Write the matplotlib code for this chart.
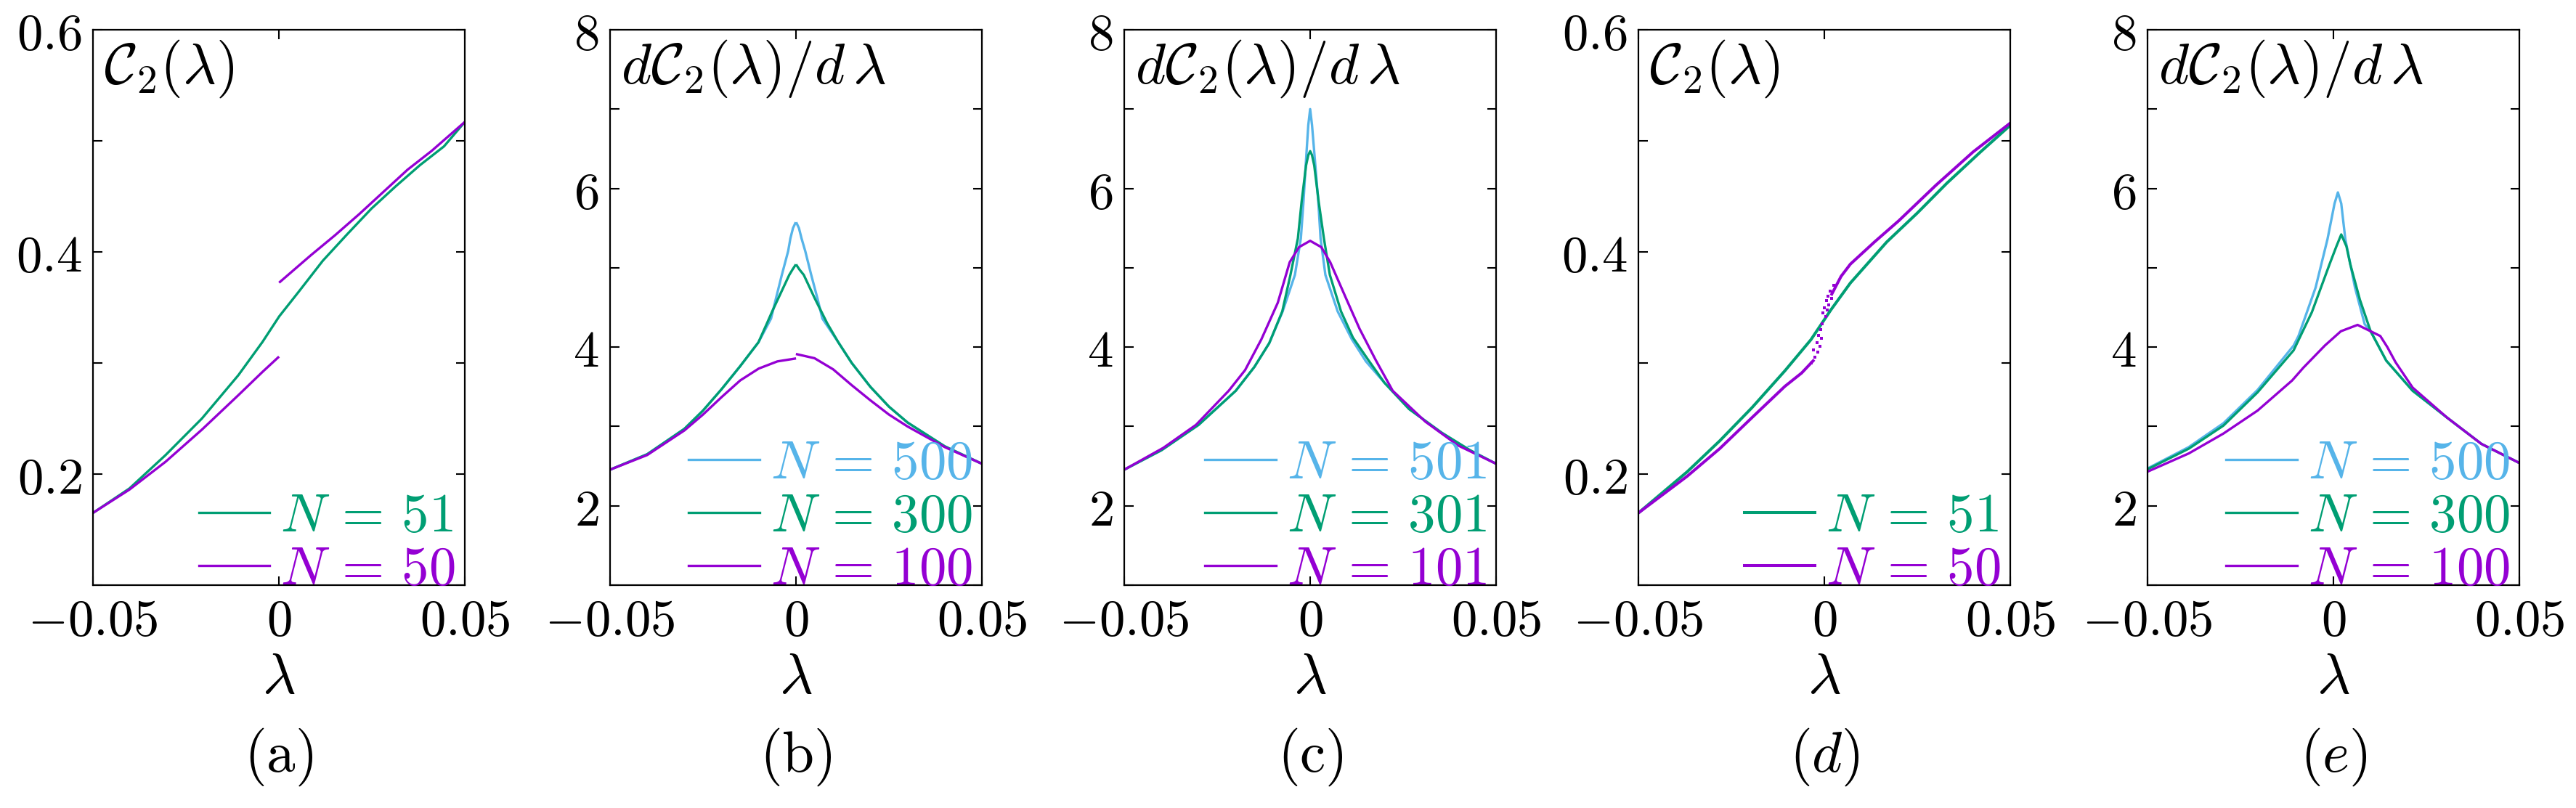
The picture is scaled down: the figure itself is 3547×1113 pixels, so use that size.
import matplotlib
matplotlib.use("Agg")
import matplotlib.pyplot as plt
from matplotlib.ticker import FixedLocator, FixedFormatter

plt.rcParams['mathtext.fontset'] = 'cm'
plt.rcParams['font.family'] = ['DejaVu Serif']

BLUE = '#56b4e9'
GREEN = '#009e73'
PURPLE = '#9400d3'

# ---------------- panel (a) ----------------
a_lam_g = [-0.05, -0.0402, -0.0305, -0.0207, -0.0109, -0.0044, 0.0001, 0.0053, 0.0118, 0.0184, 0.0249,
           0.0314, 0.0379, 0.0444, 0.05]
a_g = [0.165, 0.187, 0.217, 0.250, 0.289, 0.319, 0.342, 0.364, 0.392, 0.416, 0.439,
       0.459, 0.478, 0.495, 0.517]
a_lam_pL = [-0.05, -0.0402, -0.0305, -0.0207, -0.0109, -0.0044, -0.0002]
a_pL = [0.165, 0.186, 0.211, 0.240, 0.271, 0.292, 0.305]
a_lam_pR = [0.0003, 0.0086, 0.0151, 0.0216, 0.0281, 0.0346, 0.0411, 0.05]
a_pR = [0.373, 0.397, 0.415, 0.434, 0.454, 0.474, 0.491, 0.517]

# ---------------- panel (b) ----------------
b_lam_bL = [-0.05, -0.04, -0.03, -0.025, -0.02, -0.015, -0.0101, -0.0067, -0.0054, -0.0038, -0.0021, -0.0015, -0.0008, -0.0002]
b_bL = [2.455, 2.65, 2.97, 3.20, 3.47, 3.76, 4.06, 4.36, 4.61, 4.91, 5.21, 5.37, 5.50, 5.56]
b_lam_bR = [0.0002, 0.0008, 0.0015, 0.0025, 0.0041, 0.0058, 0.0071, 0.0114, 0.015, 0.02, 0.025, 0.03, 0.04, 0.05]
b_bR = [5.56, 5.50, 5.37, 5.21, 4.91, 4.61, 4.36, 4.06, 3.80, 3.50, 3.25, 3.05, 2.75, 2.53]
b_lam_gL = [-0.05, -0.04, -0.03, -0.025, -0.02, -0.015, -0.0101, -0.0078, -0.0063, -0.0048, -0.0033, -0.0018, -0.0009, -0.0002]
b_gL = [2.455, 2.65, 2.97, 3.20, 3.47, 3.76, 4.06, 4.30, 4.46, 4.61, 4.76, 4.91, 4.98, 5.03]
b_lam_gR = [0.0002, 0.0009, 0.0021, 0.0051, 0.0084, 0.0114, 0.015, 0.02, 0.025, 0.03, 0.04, 0.05]
b_gR = [5.03, 4.98, 4.91, 4.61, 4.30, 4.06, 3.80, 3.50, 3.25, 3.05, 2.75, 2.53]
b_lam_pL = [-0.05, -0.04, -0.03, -0.025, -0.02, -0.015, -0.01, -0.005, -0.0003]
b_pL = [2.455, 2.64, 2.95, 3.15, 3.37, 3.58, 3.73, 3.82, 3.855]
b_lam_pR = [0.0003, 0.005, 0.01, 0.015, 0.02, 0.025, 0.03, 0.04, 0.05]
b_pR = [3.91, 3.86, 3.72, 3.52, 3.33, 3.15, 3.00, 2.74, 2.53]

# ---------------- panel (c) ----------------
c_lam_b = [-0.05, -0.04, -0.03, -0.02, -0.015, -0.011, -0.0074, -0.0041, -0.0025, -0.0018, -0.0012, -0.0005, 0.0,
           0.0005, 0.0014, 0.0022, 0.0028, 0.0041, 0.0074, 0.0112, 0.015, 0.02, 0.0266, 0.0354, 0.043, 0.05]
c_b = [2.455, 2.70, 3.02, 3.45, 3.75, 4.05, 4.45, 4.91, 5.37, 5.83, 6.29, 6.80, 7.00,
       6.80, 6.29, 5.83, 5.37, 4.91, 4.45, 4.10, 3.82, 3.55, 3.22, 2.92, 2.70, 2.53]
c_lam_g = [-0.05, -0.04, -0.03, -0.02, -0.015, -0.011, -0.0075, -0.0053, -0.0033, -0.0023, -0.0011, -0.0005, 0.0,
           0.0005, 0.0011, 0.0023, 0.0037, 0.0053, 0.0083, 0.0115, 0.0156, 0.02, 0.0266, 0.0354, 0.043, 0.05]
c_g = [2.455, 2.70, 3.02, 3.45, 3.75, 4.05, 4.45, 4.91, 5.37, 5.83, 6.29, 6.42, 6.47,
       6.42, 6.29, 5.83, 5.37, 4.91, 4.45, 4.12, 3.84, 3.55, 3.22, 2.92, 2.70, 2.53]
c_lam_p = [-0.05, -0.0395, -0.0307, -0.0219, -0.0175, -0.0131, -0.0087, -0.0055, -0.003, 0.0,
           0.003, 0.0054, 0.0097, 0.0133, 0.0176, 0.0222, 0.031, 0.0398, 0.05]
c_p = [2.455, 2.73, 3.02, 3.45, 3.71, 4.10, 4.56, 5.07, 5.26, 5.34,
       5.26, 5.07, 4.61, 4.23, 3.84, 3.45, 3.06, 2.76, 2.53]

# ---------------- panel (d) ----------------
d_lam_g = [-0.05, -0.0369, -0.0281, -0.0194, -0.0106, -0.0061, -0.0036, -0.0022, 0.0018, 0.0070, 0.0168, 0.025, 0.033, 0.042, 0.05]
d_g = [0.165, 0.202, 0.230, 0.260, 0.293, 0.311, 0.321, 0.328, 0.348, 0.372, 0.409, 0.435, 0.462, 0.490, 0.514]
d_lam_pL = [-0.05, -0.0369, -0.0281, -0.0194, -0.0106, -0.0061, -0.003]
d_pL = [0.165, 0.198, 0.223, 0.251, 0.279, 0.291, 0.302]
d_lam_pR = [0.002, 0.0045, 0.007, 0.0135, 0.02, 0.03, 0.04, 0.05]
d_pR = [0.362, 0.378, 0.389, 0.409, 0.428, 0.460, 0.490, 0.516]
d_lam_pS = [-0.0035, -0.003, -0.0025, -0.002, -0.0018, -0.0015, -0.0012, -0.001, -0.0008, -0.0005,
            -0.0003, 0.0, 0.0003, 0.0005, 0.0008, 0.001, 0.0012, 0.0015, 0.002, 0.0025]
d_pS = [0.300, 0.312, 0.305, 0.318, 0.310, 0.325, 0.315, 0.330, 0.322, 0.335,
        0.345, 0.350, 0.342, 0.356, 0.348, 0.360, 0.352, 0.365, 0.358, 0.370]

# ---------------- panel (e) ----------------
e_lam_b = [-0.05, -0.0389, -0.0296, -0.0204, -0.0107, -0.0094, -0.0048, -0.0016, 0.0003, 0.0012, 0.0021,
           0.0032, 0.0058, 0.0084, 0.0100, 0.0142, 0.0213, 0.0306, 0.0398, 0.05]
e_b = [2.47, 2.74, 3.04, 3.46, 4.02, 4.14, 4.75, 5.36, 5.81, 5.95, 5.81,
       5.36, 4.75, 4.29, 4.20, 3.83, 3.45, 3.11, 2.78, 2.54]
e_lam_g = [-0.05, -0.0389, -0.0296, -0.0204, -0.0107, -0.0058, -0.001, 0.0008, 0.0021, 0.0035,
           0.0045, 0.0071, 0.0100, 0.0142, 0.0213, 0.0306, 0.0398, 0.05]
e_g = [2.46, 2.72, 3.01, 3.43, 3.96, 4.44, 5.05, 5.27, 5.42, 5.27,
       5.05, 4.60, 4.20, 3.83, 3.45, 3.11, 2.78, 2.54]
e_lam_p = [-0.05, -0.0389, -0.0296, -0.0204, -0.0111, -0.0081, -0.0023, 0.002, 0.0065, 0.01,
           0.0126, 0.0145, 0.0167, 0.0213, 0.0306, 0.0398, 0.05]
e_p = [2.43, 2.66, 2.91, 3.20, 3.58, 3.74, 4.02, 4.20, 4.28, 4.20,
       4.14, 4.00, 3.81, 3.49, 3.11, 2.78, 2.54]

x_ticks = [-0.05, 0.0, 0.05]
x_ticklabels = [r'$-0.05$', r'$0$', r'$0.05$']
c2_yticks = [0.1, 0.2, 0.3, 0.4, 0.5, 0.6]
c2_yticklabels = ['', r'$0.2$', '', r'$0.4$', '', r'$0.6$']
dc_yticks = [1, 2, 3, 4, 5, 6, 7, 8]
dc_yticklabels = ['', r'$2$', '', r'$4$', '', r'$6$', '', r'$8$']
panel_labels = [r'$\mathrm{(a)}$', r'$\mathrm{(b)}$', r'$\mathrm{(c)}$', r'$(d)$', r'$(e)$']

W, H = 3548, 1113
fig = plt.figure(figsize=(W / 100, H / 100), dpi=100)
lefts = [128, 840, 1548, 2256, 2957]
axw = 512
ax_bottom, ax_top = 806, 41
axes = []
for L in lefts:
    ax = fig.add_axes([L / W, 1 - ax_bottom / H, axw / W, (ax_bottom - ax_top) / H])
    axes.append(ax)

LW = 2.4
TICK_FS = 51
LEG_FS = 54
TXT_FS = 57

def style(ax, kind, label):
    ax.set_xlim(-0.05, 0.05)
    ax.xaxis.set_major_locator(FixedLocator(x_ticks))
    ax.xaxis.set_major_formatter(FixedFormatter(x_ticklabels))
    if kind == 'c2':
        ax.set_ylim(0.1, 0.6)
        ax.yaxis.set_major_locator(FixedLocator(c2_yticks))
        ax.yaxis.set_major_formatter(FixedFormatter(c2_yticklabels))
        ann = r'$\mathcal{C}_2(\lambda)$'
    else:
        ax.set_ylim(1, 8)
        ax.yaxis.set_major_locator(FixedLocator(dc_yticks))
        ax.yaxis.set_major_formatter(FixedFormatter(dc_yticklabels))
        ann = r'$d\mathcal{C}_2(\lambda)/d\,\lambda$'
    ax.tick_params(direction='in', top=True, right=True, length=9, width=1.5,
                   labelsize=TICK_FS, pad=11)
    for s in ax.spines.values():
        s.set_linewidth(1.6)
    ax.text(0.03, 0.985, ann, transform=ax.transAxes, ha='left', va='top', fontsize=TXT_FS)
    ax.text(0.5, -0.166, r'$\lambda$', transform=ax.transAxes, ha='center', va='center', fontsize=TXT_FS)
    ax.text(0.5, -0.31, label, transform=ax.transAxes, ha='center', va='center', fontsize=TXT_FS)

def legend(ax):
    ax.legend(loc='lower right', bbox_to_anchor=(0.975, -0.02), frameon=False, fontsize=LEG_FS,
              handlelength=1.3, handletextpad=0.2, labelspacing=0.0, borderaxespad=0.0,
              borderpad=0.0, labelcolor='linecolor')

# (a)
ax = axes[0]
ax.plot(a_lam_g, a_g, color=GREEN, lw=LW, label=r'$N\,=\,51$')
ax.plot(a_lam_pL, a_pL, color=PURPLE, lw=LW, label=r'$N\,=\,50$')
ax.plot(a_lam_pR, a_pR, color=PURPLE, lw=LW)
style(ax, 'c2', panel_labels[0])
legend(ax)

# (b)
ax = axes[1]
ax.plot(b_lam_bL, b_bL, color=BLUE, lw=LW, label=r'$N\,=\,500$')
ax.plot(b_lam_bR, b_bR, color=BLUE, lw=LW)
ax.plot(b_lam_gL, b_gL, color=GREEN, lw=LW, label=r'$N\,=\,300$')
ax.plot(b_lam_gR, b_gR, color=GREEN, lw=LW)
ax.plot(b_lam_pL, b_pL, color=PURPLE, lw=LW, label=r'$N\,=\,100$')
ax.plot(b_lam_pR, b_pR, color=PURPLE, lw=LW)
style(ax, 'dc', panel_labels[1])
legend(ax)

# (c)
ax = axes[2]
ax.plot(c_lam_b, c_b, color=BLUE, lw=LW, label=r'$N\,=\,501$')
ax.plot(c_lam_g, c_g, color=GREEN, lw=LW, label=r'$N\,=\,301$')
ax.plot(c_lam_p, c_p, color=PURPLE, lw=LW, label=r'$N\,=\,101$')
style(ax, 'dc', panel_labels[2])
legend(ax)

# (d)
ax = axes[3]
ax.plot(d_lam_g, d_g, color=GREEN, lw=2.9, label=r'$N\,=\,51$')
ax.plot(d_lam_pL, d_pL, color=PURPLE, lw=2.9, label=r'$N\,=\,50$')
ax.plot(d_lam_pR, d_pR, color=PURPLE, lw=2.9)
ax.plot(d_lam_pS, d_pS, color=PURPLE, ls='none', marker='s', ms=2.4, mew=0)
style(ax, 'c2', panel_labels[3])
legend(ax)

# (e)
ax = axes[4]
ax.plot(e_lam_b, e_b, color=BLUE, lw=LW, label=r'$N\,=\,500$')
ax.plot(e_lam_g, e_g, color=GREEN, lw=LW, label=r'$N\,=\,300$')
ax.plot(e_lam_p, e_p, color=PURPLE, lw=LW, label=r'$N\,=\,100$')
style(ax, 'dc', panel_labels[4])
legend(ax)

fig.savefig('out.png', dpi=100)
